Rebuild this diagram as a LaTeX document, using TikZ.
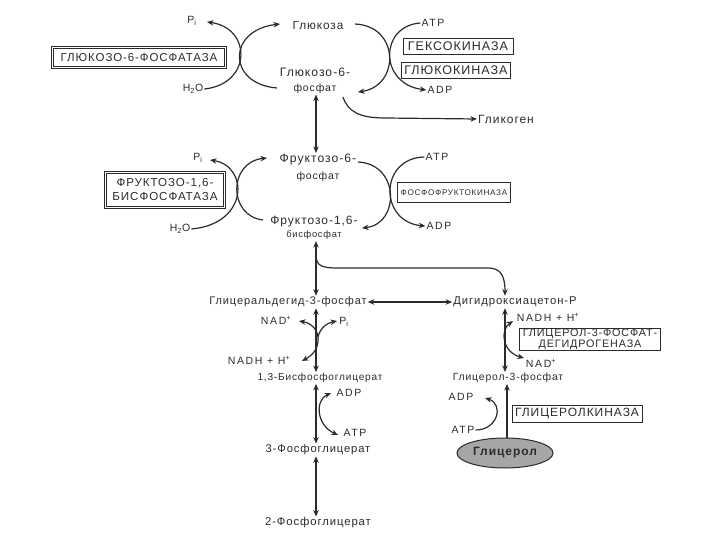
\documentclass[tikz,border=0pt]{standalone}
\usepackage{fontspec}
\setmainfont{Liberation Sans}
\newfontfamily\mymf[LetterSpace=8]{Liberation Sans}
\newfontfamily\mysmf[LetterSpace=16]{Liberation Sans}
\usetikzlibrary{arrows.meta,shapes.geometric,calc}
\definecolor{ink}{HTML}{2B2B2B}
\definecolor{glyfill}{HTML}{A6A6A6}
\newcommand{\myfsz}[2]{\fontsize{#1}{#2}\selectfont}
\begin{document}
\begin{tikzpicture}[x=1pt,y=-1pt,
  met/.style={font=\mymf\myfsz{11}{17}, text=ink, inner sep=1pt, align=center},
  sml/.style={font=\mysmf\myfsz{10.5}{12}, text=ink, inner sep=1pt},
  enz/.style={draw=ink, line width=0.8pt, text=ink, inner xsep=3pt, inner ysep=1pt, align=center, font=\mymf\myfsz{12}{13}},
  denz/.style={enz, line width=1.1pt},
  inbox/.style={draw=ink, line width=0.6pt},
  arr/.style={draw=ink, line width=1.2pt, -{Stealth[length=6.5pt,width=5.5pt]}},
  barr/.style={draw=ink, line width=1.2pt, {Stealth[length=6.5pt,width=5.5pt]}-{Stealth[length=6.5pt,width=5.5pt]}}
]
\useasboundingbox (0,0) rectangle (720,540);
\coordinate (ax) at (316,0);
\coordinate (rx) at (505,0);
% ---------- glucose block
\node[met, font=\mymf\myfsz{11.8}{14}] (glc) at (318,25) {Глюкоза};
\node[met, font=\mymf\myfsz{12.2}{15}] (g6p) at (315,80.5) {Глюкозо-6-\\{\myfsz{10.5}{12}фосфат}};
\node[sml] (pi1) at (192,21) {P\textsubscript{i}};
\node[sml] (h2o1) at (193,89) {H\textsubscript{2}O};
\node[denz, font=\mymf\myfsz{11.5}{13}, minimum width=175pt, minimum height=22pt] (g6pase) at (139,57.5) {ГЛЮКОЗО-6-ФОСФАТАЗА};
\draw[inbox] ($(g6pase.north west)+(2.6,2.6)$) rectangle ($(g6pase.south east)+(-2.6,-2.6)$);
\node[sml] (atp1) at (433,23) {ATP};
\node[sml] (adp1) at (440,90) {ADP};
\node[enz, font=\mymf\myfsz{12.5}{13}, minimum width=110pt, minimum height=16pt] (hk) at (458,46) {ГЕКСОКИНАЗА};
\node[enz, font=\mymf\myfsz{12.5}{13}, minimum width=105pt, minimum height=16pt] (gck) at (456,70) {ГЛЮКОКИНАЗА};
\node[met, font=\mymf\myfsz{12}{14}] (glyc) at (506,119) {Гликоген};
% arcs
\draw[arr] (h2o1.east) .. controls (252,84) and (252,28) .. (207,22);
\draw[arr] (277,88) .. controls (227,84) and (227,30) .. (280,24);
\draw[arr] (355,24) .. controls (400,26) and (400,86) .. (358,92);
\draw[arr] (atp1.west) .. controls (379,26) and (379,84) .. (adp1.west);
\draw[arr] (343,97) .. controls (348,112) and (360,118) .. (385,118) -- (glyc.west);
% ---------- fructose block
\node[met, font=\mymf\myfsz{12.2}{17}] (f6p) at (318,168) {Фруктозо-6-\\{\myfsz{10.5}{12}фосфат}};
\node[met, font=\mymf\myfsz{12}{13.5}] (fbp) at (314,228) {Фруктозо-1,6-\\{\myfsz{9.3}{10}бисфосфат}};
\node[sml] (pi2) at (198,158) {P\textsubscript{i}};
\node[sml] (h2o2) at (180,229) {H\textsubscript{2}O};
\node[denz, font=\mymf\myfsz{11.6}{14}, minimum width=121pt, minimum height=37pt] (fbpase) at (165,190) {ФРУКТОЗО-1,6-\\БИСФОСФАТАЗА};
\draw[inbox] ($(fbpase.north west)+(2.6,2.6)$) rectangle ($(fbpase.south east)+(-2.6,-2.6)$);
\node[sml] (atp2) at (437,157) {ATP};
\node[sml] (adp2) at (439,226) {ADP};
\node[enz, font=\mymf\myfsz{8.2}{10}, minimum width=112pt, minimum height=20pt] (pfk) at (454,192.5) {ФОСФОФРУКТОКИНАЗА};
\draw[barr] (g6p.south -| ax) -- (f6p.north -| ax);
\draw[arr] (h2o2.east) .. controls (249,224) and (249,166) .. (210,160);
\draw[arr] (263,220) .. controls (228,216) and (228,162) .. (267,158);
\draw[arr] (358,162) .. controls (400,164) and (400,224) .. (362,228);
\draw[arr] (atp2.west) .. controls (379,158) and (379,222) .. (adp2.west);
% ---------- triose block
\node[met] (gap) at (288,302) {Глицеральдегид-3-фосфат};
\node[met, font=\mymf\myfsz{11.3}{13}] (dhap) at (515,302) {Дигидроксиацетон-Р};
\draw[barr] (fbp.south -| ax) -- (gap.north -| ax);
\draw[arr] (316,255) .. controls (316,266) and (322,268) .. (338,268) -- (488,268) .. controls (501,268) and (505,276) .. (dhap.north -| rx);
\draw[barr] (gap.east) -- (dhap.west);
% GAP -> 1,3-BPG
\node[sml] (nad1) at (276,320) {NAD\textsuperscript{+}};
\node[sml] (pi3) at (344,322) {P\textsubscript{i}};
\node[sml] (nadh1) at (259,360) {NADH + H\textsuperscript{+}};
\node[met, font=\mymf\myfsz{10.1}{12}] (bpg) at (320,378) {1,3-Бисфосфоглицерат};
\draw[barr] (gap.south -| ax) -- (bpg.north -| ax);
\coordinate (yc) at (318,337);
\draw[barr] (299,321) .. controls (311,323) and (317,329) .. (yc) .. controls (319,350) and (311,356) .. (302,361);
\draw[arr] (yc) .. controls (320,328) and (327,323) .. (337,321);
% DHAP -> glycerol-3-P
\node[sml] (nadh2) at (548,317) {NADH + H\textsuperscript{+}};
\node[enz, font=\mymf\myfsz{10.8}{11.5}, minimum width=136pt, inner ysep=0.5pt] (g3pdh) at (590,339.5) {ГЛИЦЕРОЛ-3-ФОСФАТ-\\ДЕГИДРОГЕНАЗА};
\node[sml] (nad2) at (541,363) {NAD\textsuperscript{+}};
\node[met, font=\mymf\myfsz{10.4}{12}] (g3p) at (508,378) {Глицерол-3-фосфат};
\draw[barr] (dhap.south -| rx) -- (g3p.north -| rx);
\draw[barr] (513,321) .. controls (500,330) and (502,352) .. (524,358);
% BPG -> 3PG
\node[sml] (adp3) at (349,393) {ADP};
\node[sml] (atp3) at (355,433) {ATP};
\node[met, font=\mymf\myfsz{11.2}{13}] (pg3) at (318,450) {3-Фосфоглицерат};
\node[met, font=\mymf\myfsz{11.3}{13}] (pg2) at (318,523) {2-Фосфоглицерат};
\draw[barr] (bpg.south -| ax) -- (pg3.north -| ax);
\draw[barr] (331,393) .. controls (315,400) and (316,425) .. (338,435);
\draw[barr] (pg3.south -| ax) -- (pg2.north -| ax);
% glycerol
\node[ellipse, draw=ink, line width=1pt, fill=glyfill, minimum width=96pt, minimum height=30pt, inner sep=0pt, font=\mymf\myfsz{12}{13}\bfseries, text=ink] (gly) at (505,453) {Глицерол};
\node[sml] (adp4) at (461,397) {ADP};
\node[sml] (atp4) at (463,430) {ATP};
\node[enz, minimum width=130pt, minimum height=17pt] (glk) at (577,413.5) {ГЛИЦЕРОЛКИНАЗА};
\coordinate (gx) at (507,0);
\draw[arr] (gly.north -| gx) -- (g3p.south -| gx);
\draw[arr] (atp4.east) .. controls (498,430) and (504,404) .. (485,398);
\end{tikzpicture}
\end{document}
